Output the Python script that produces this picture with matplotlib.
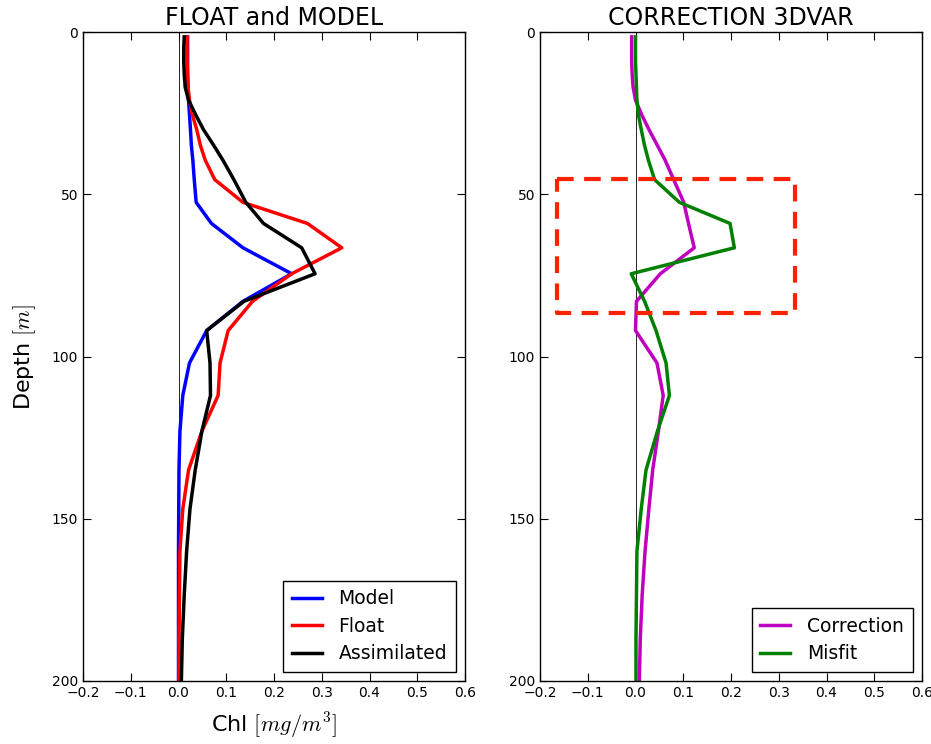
import matplotlib
matplotlib.use("Agg")
import matplotlib.pyplot as plt

depth = [1.5, 5, 9, 13, 17, 21, 25.5, 30, 35, 39.5, 45.5, 52.5, 59, 66.5, 74.5,
         83, 92, 102, 112, 123, 135, 147, 160, 173.5, 187, 200]

model = [0.019, 0.019, 0.019, 0.019, 0.020, 0.021, 0.023, 0.025, 0.027, 0.030, 0.033,
         0.037, 0.069, 0.135, 0.237, 0.135, 0.059, 0.023, 0.009, 0.003, 0.001, 0.0005,
         0.0, 0.0, 0.0, 0.0]
floatv = [0.018, 0.018, 0.018, 0.019, 0.020, 0.023, 0.029, 0.038, 0.046, 0.056, 0.076,
          0.135, 0.270, 0.342, 0.237, 0.155, 0.104, 0.087, 0.083, 0.049, 0.021, 0.009,
          0.003, 0.002, 0.001, 0.001]
assim = [0.012, 0.011, 0.011, 0.012, 0.014, 0.021, 0.036, 0.052, 0.074, 0.093, 0.116,
         0.141, 0.178, 0.258, 0.286, 0.137, 0.059, 0.066, 0.067, 0.049, 0.035, 0.024,
         0.017, 0.012, 0.008, 0.006]
correction = [-0.008, -0.008, -0.008, -0.007, -0.005, 0.0, 0.013, 0.028, 0.046, 0.062,
              0.080, 0.101, 0.111, 0.123, 0.052, 0.002, 0.0, 0.045, 0.058, 0.048, 0.036,
              0.028, 0.020, 0.014, 0.010, 0.008]
misfit = [0.0, 0.0, 0.0, 0.001, 0.002, 0.003, 0.006, 0.012, 0.019, 0.027, 0.040, 0.092,
          0.198, 0.207, -0.009, 0.019, 0.043, 0.064, 0.071, 0.046, 0.022, 0.012, 0.003,
          0.002, 0.001, 0.001]

box_x = [-0.165, 0.335]
box_y = [45.3, 86.6]

xticks = [-0.2, -0.1, 0.0, 0.1, 0.2, 0.3, 0.4, 0.5, 0.6]
yticks = [0, 50, 100, 150, 200]

plt.rcParams['mathtext.fontset'] = 'cm'
plt.rcParams['font.family'] = ['DejaVu Sans']

fig = plt.figure(figsize=(9.31, 7.44), dpi=100, facecolor='white')
ax1 = fig.add_axes([83/931, 63/744, 382/931, 649/744])
ax2 = fig.add_axes([540/931, 63/744, 382/931, 649/744])

lw = 2.5
ax1.plot(model, depth, color='b', lw=lw, label='Model')
ax1.plot(floatv, depth, color='r', lw=lw, label='Float')
ax1.plot(assim, depth, color='k', lw=lw, label='Assimilated')

ax2.plot(correction, depth, color='m', lw=lw, label='Correction')
ax2.plot(misfit, depth, color='g', lw=lw, label='Misfit')
ax2.plot([box_x[0], box_x[1], box_x[1], box_x[0], box_x[0]],
         [box_y[0], box_y[0], box_y[1], box_y[1], box_y[0]],
         color='#ff2200', lw=3, ls=(0, (4, 2.5)))

for ax, title in ((ax1, 'FLOAT and MODEL'), (ax2, 'CORRECTION 3DVAR')):
    ax.axvline(0, color='k', lw=0.6, zorder=0)
    ax.set_xlim(-0.2, 0.6)
    ax.set_ylim(200, 0)
    ax.set_xticks(xticks)
    ax.set_yticks(yticks)
    ax.tick_params(direction='in', top=True, right=True, labelsize=10, length=6, width=0.8)
    ax.set_title(title, fontsize=17, pad=5)
    for s in ax.spines.values():
        s.set_linewidth(1.0)

ax1.set_ylabel('Depth $[m]$', fontsize=16, labelpad=10)
ax1.set_xlabel('Chl $[mg/m^3]$', fontsize=16, labelpad=8)

for ax in (ax1, ax2):
    leg = ax.legend(loc='lower right', fontsize=13.5, fancybox=False, edgecolor='k',
                    framealpha=1, handlelength=1.6, handletextpad=0.9,
                    borderpad=0.45, labelspacing=0.45, borderaxespad=0.5)
    leg.get_frame().set_linewidth(1.0)

fig.savefig('out.png', dpi=100, facecolor='white')
